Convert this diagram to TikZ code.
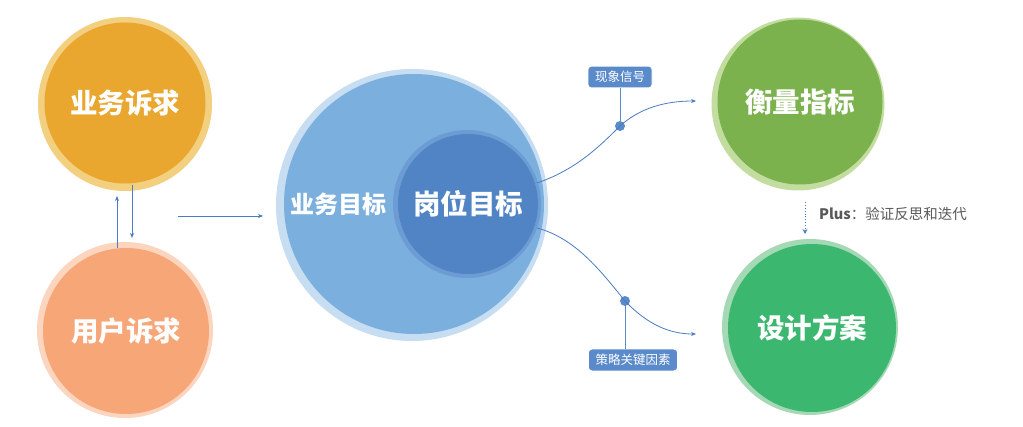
\documentclass[tikz,border=0pt]{standalone}
\usepackage{fontspec}
\newfontfamily\cjk{Noto Sans CJK SC}
\usetikzlibrary{arrows.meta}
\definecolor{orangeC}{HTML}{E9A72F}
\definecolor{orangeH}{HTML}{F3CF80}
\definecolor{peachC}{HTML}{F7A678}
\definecolor{peachH}{HTML}{FBD5BE}
\definecolor{blueC}{HTML}{7BAFDE}
\definecolor{blueH}{HTML}{C6DDF2}
\definecolor{dblueC}{HTML}{5184C4}
\definecolor{dblueH}{HTML}{6C9CD3}
\definecolor{greenC}{HTML}{7CB24E}
\definecolor{greenH}{HTML}{C3DDA0}
\definecolor{green2C}{HTML}{3CB770}
\definecolor{green2H}{HTML}{A5D9B6}
\definecolor{lineC}{HTML}{4A7CC2}
\definecolor{tagC}{HTML}{5A8ACA}
\definecolor{grayT}{HTML}{595959}
\begin{document}
\begin{tikzpicture}[x=1pt,y=-1pt,
  ball/.style={circle,inner sep=0pt,text=white,font=\cjk\bfseries\fontsize{27.5}{30}\selectfont},
  halo/.style={circle,inner sep=0pt},
  conn/.style={lineC,line width=0.8pt,-{Stealth[length=5pt,width=4pt]}},
  tag/.style={rectangle,rounded corners=3.5pt,fill=tagC,draw=white,line width=0.6pt,text=white,font=\cjk\fontsize{12.5}{14}\selectfont,inner xsep=7pt,inner ysep=5pt},
  dot/.style={circle,fill=tagC,inner sep=0pt,minimum size=10pt}]
\useasboundingbox (0,0) rectangle (1023,427);
\fill[white] (0,0) rectangle (1023,427);
% left circles
\node[halo,fill=orangeH,minimum size=174pt] (h1) at (125,104) {};
\node[ball,fill=orangeC,minimum size=161pt] (b1) at (125,103) {业务诉求};
\node[halo,fill=peachH,minimum size=176pt] (h2) at (125,330) {};
\node[ball,fill=peachC,minimum size=166pt] (b2) at (126,331) {用户诉求};
% big blue
\node[halo,fill=blueH,minimum size=272pt] (h3) at (412,205) {};
\node[halo,fill=blueC,minimum size=260pt] (b3) at (414,204) {};
\node[halo,fill=dblueH,minimum size=148pt] (h4) at (467,204) {};
\node[ball,fill=dblueC,minimum size=140pt] (b4) at (468,204) {岗位目标};
\node[text=white,font=\cjk\bfseries\fontsize{24}{28}\selectfont] (t3) at (338,204) {业务目标};
% right circles
\node[halo,fill=greenH,minimum size=173pt] (h5) at (798,104) {};
\node[ball,fill=greenC,minimum size=165pt] (b5) at (800,102) {衡量指标};
\node[halo,fill=green2H,minimum size=176pt] (h6) at (810,327) {};
\node[ball,fill=green2C,minimum size=168pt] (b6) at (812,328) {设计方案};
% coordinates
\coordinate (upS) at (117,248);
\coordinate (upE) at (117,196);
\coordinate (dnS) at (132,185);
\coordinate (dnE) at (132,238);
\coordinate (hS) at (178,216);
\coordinate (hE) at (263,216);
\coordinate (c1S) at (537,183);
\coordinate (c1E) at (696,101);
\coordinate (c2S) at (537,228);
\coordinate (c2E) at (696,334);
\coordinate (pS) at (805,202);
\coordinate (pE) at (805,234);
% arrows left
\draw[conn] (upS) -- (upE);
\draw[conn] (dnS) -- (dnE);
\draw[conn] (hS) -- (hE);
% tags and dots
\node[dot] (d1) at (620,126) {};
\node[dot] (d2) at (625,301) {};
\node[tag] (t1) at (620,77) {现象信号};
\node[tag] (t2) at (633,360) {策略关键因素};
\draw[tagC,line width=1pt] (t1.south -| d1) -- (d1);
\draw[tagC,line width=1pt] (d2) -- (t2.north -| d2);
\draw[conn] (c1S) .. controls (575,170) and (598,148) .. (d1.center) .. controls (640,108) and (665,101) .. (c1E);
\draw[conn] (c2S) .. controls (575,238) and (600,270) .. (d2.center) .. controls (648,325) and (670,334) .. (c2E);
% plus
\draw[lineC,line width=0.9pt,dotted,-{Stealth[length=5pt,width=5pt]}] (pS) -- (pE);
\node[anchor=west,text=grayT,font=\cjk\fontsize{14.5}{16}\selectfont,inner sep=0pt] (plus) at (819,214) {\textbf{Plus}：验证反思和迭代};
\end{tikzpicture}
\end{document}
